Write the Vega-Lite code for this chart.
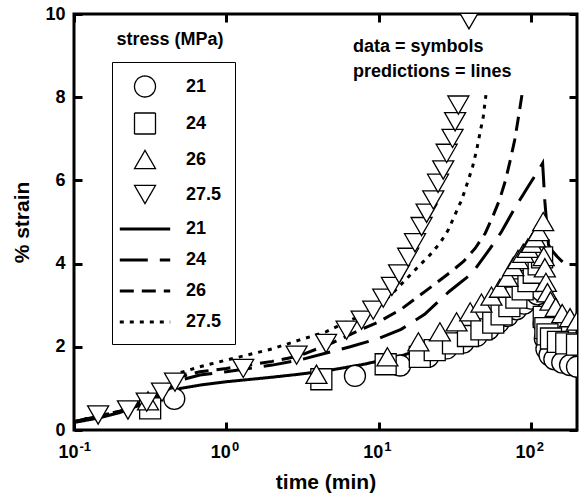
{
  "$schema": "https://vega.github.io/schema/vega-lite/v6.json",
  "width": 503,
  "height": 416,
  "autosize": {"type": "none"},
  "padding": {"left": 74, "top": 14, "right": 5, "bottom": 68},
  "background": "white",
  "config": {
    "view": {"stroke": "black", "strokeWidth": 3},
    "font": "Liberation Sans",
    "axis": {"grid": false, "domain": false, "tickColor": "black", "tickWidth": 3, "tickSize": -8, "labelColor": "black", "titleColor": "black", "labelFont": "Liberation Sans", "titleFont": "Liberation Sans", "labelFontWeight": "bold", "titleFontWeight": "bold", "labelFontSize": 18, "titleFontSize": 21, "labelFlush": false, "zindex": 1}
  },
  "datasets": {
    "lines": [
      {"series": "L21", "t": 0.1, "strain": 0.18}, {"series": "L21", "t": 0.15, "strain": 0.3}, {"series": "L21", "t": 0.2, "strain": 0.42}, {"series": "L21", "t": 0.3, "strain": 0.66}, {"series": "L21", "t": 0.4, "strain": 0.88}, {"series": "L21", "t": 0.5, "strain": 1.0}, {"series": "L21", "t": 0.7, "strain": 1.09}, {"series": "L21", "t": 1, "strain": 1.16}, {"series": "L21", "t": 2, "strain": 1.27}, {"series": "L21", "t": 3, "strain": 1.34}, {"series": "L21", "t": 5, "strain": 1.45}, {"series": "L21", "t": 8, "strain": 1.58}, {"series": "L21", "t": 10, "strain": 1.66}, {"series": "L21", "t": 14, "strain": 1.78}, {"series": "L21", "t": 20, "strain": 1.97}, {"series": "L21", "t": 30, "strain": 2.25}, {"series": "L21", "t": 40, "strain": 2.48}, {"series": "L21", "t": 50, "strain": 2.68}, {"series": "L21", "t": 62, "strain": 2.88}, {"series": "L21", "t": 80, "strain": 3.18}, {"series": "L21", "t": 100, "strain": 3.42}, {"series": "L21", "t": 123, "strain": 3.65}, {"series": "L21", "t": 124, "strain": 2.6}, {"series": "L21", "t": 130, "strain": 2.3}, {"series": "L21", "t": 150, "strain": 2.05}, {"series": "L21", "t": 200, "strain": 1.8},
      {"series": "L24", "t": 0.1, "strain": 0.2}, {"series": "L24", "t": 0.2, "strain": 0.45}, {"series": "L24", "t": 0.3, "strain": 0.7}, {"series": "L24", "t": 0.4, "strain": 0.95}, {"series": "L24", "t": 0.5, "strain": 1.2}, {"series": "L24", "t": 0.67, "strain": 1.32}, {"series": "L24", "t": 1, "strain": 1.4}, {"series": "L24", "t": 2, "strain": 1.56}, {"series": "L24", "t": 3, "strain": 1.68}, {"series": "L24", "t": 6.5, "strain": 2.0}, {"series": "L24", "t": 10, "strain": 2.2}, {"series": "L24", "t": 14, "strain": 2.42}, {"series": "L24", "t": 20, "strain": 2.78}, {"series": "L24", "t": 29, "strain": 3.33}, {"series": "L24", "t": 41, "strain": 3.77}, {"series": "L24", "t": 54, "strain": 4.37}, {"series": "L24", "t": 64, "strain": 4.77}, {"series": "L24", "t": 78, "strain": 5.33}, {"series": "L24", "t": 97, "strain": 5.89}, {"series": "L24", "t": 113, "strain": 6.27}, {"series": "L24", "t": 119, "strain": 6.41}, {"series": "L24", "t": 123, "strain": 5.5}, {"series": "L24", "t": 130, "strain": 4.45}, {"series": "L24", "t": 136, "strain": 4.33}, {"series": "L24", "t": 148, "strain": 4.17}, {"series": "L24", "t": 165, "strain": 4.0}, {"series": "L24", "t": 200, "strain": 3.97},
      {"series": "L26", "t": 0.1, "strain": 0.2}, {"series": "L26", "t": 0.2, "strain": 0.45}, {"series": "L26", "t": 0.3, "strain": 0.72}, {"series": "L26", "t": 0.4, "strain": 1.0}, {"series": "L26", "t": 0.5, "strain": 1.28}, {"series": "L26", "t": 0.67, "strain": 1.4}, {"series": "L26", "t": 1, "strain": 1.48}, {"series": "L26", "t": 2, "strain": 1.65}, {"series": "L26", "t": 3, "strain": 1.78}, {"series": "L26", "t": 5, "strain": 2.1}, {"series": "L26", "t": 7.5, "strain": 2.4}, {"series": "L26", "t": 10, "strain": 2.6}, {"series": "L26", "t": 14, "strain": 2.9}, {"series": "L26", "t": 18, "strain": 3.2}, {"series": "L26", "t": 23, "strain": 3.49}, {"series": "L26", "t": 29, "strain": 3.77}, {"series": "L26", "t": 36, "strain": 4.05}, {"series": "L26", "t": 43, "strain": 4.37}, {"series": "L26", "t": 50, "strain": 4.73}, {"series": "L26", "t": 56, "strain": 5.13}, {"series": "L26", "t": 62, "strain": 5.53}, {"series": "L26", "t": 68, "strain": 6.01}, {"series": "L26", "t": 73, "strain": 6.49}, {"series": "L26", "t": 78, "strain": 6.97}, {"series": "L26", "t": 82, "strain": 7.45}, {"series": "L26", "t": 87, "strain": 8.05},
      {"series": "L27.5", "t": 0.1, "strain": 0.2}, {"series": "L27.5", "t": 0.2, "strain": 0.45}, {"series": "L27.5", "t": 0.3, "strain": 0.72}, {"series": "L27.5", "t": 0.4, "strain": 1.05}, {"series": "L27.5", "t": 0.5, "strain": 1.38}, {"series": "L27.5", "t": 0.67, "strain": 1.52}, {"series": "L27.5", "t": 1, "strain": 1.68}, {"series": "L27.5", "t": 2, "strain": 1.95}, {"series": "L27.5", "t": 3, "strain": 2.16}, {"series": "L27.5", "t": 4.5, "strain": 2.36}, {"series": "L27.5", "t": 6.2, "strain": 2.6}, {"series": "L27.5", "t": 8.4, "strain": 2.82}, {"series": "L27.5", "t": 11.8, "strain": 3.22}, {"series": "L27.5", "t": 14.9, "strain": 3.6}, {"series": "L27.5", "t": 18.2, "strain": 3.93}, {"series": "L27.5", "t": 21.7, "strain": 4.21}, {"series": "L27.5", "t": 25.2, "strain": 4.49}, {"series": "L27.5", "t": 28.6, "strain": 4.81}, {"series": "L27.5", "t": 31.6, "strain": 5.17}, {"series": "L27.5", "t": 35, "strain": 5.53}, {"series": "L27.5", "t": 38.1, "strain": 5.93}, {"series": "L27.5", "t": 41.3, "strain": 6.33}, {"series": "L27.5", "t": 43.9, "strain": 6.73}, {"series": "L27.5", "t": 46.1, "strain": 7.13}, {"series": "L27.5", "t": 48.5, "strain": 7.53}, {"series": "L27.5", "t": 50.5, "strain": 8.05}
    ],
    "points": [
      {"series": "S21", "t": 0.455, "strain": 0.75}, {"series": "S21", "t": 6.98, "strain": 1.3}, {"series": "S21", "t": 13.8, "strain": 1.55}, {"series": "S21", "t": 21.1, "strain": 1.76}, {"series": "S21", "t": 27.9, "strain": 1.96}, {"series": "S21", "t": 35.9, "strain": 2.1}, {"series": "S21", "t": 43.9, "strain": 2.26}, {"series": "S21", "t": 52.6, "strain": 2.42}, {"series": "S21", "t": 61, "strain": 2.58}, {"series": "S21", "t": 70, "strain": 2.74}, {"series": "S21", "t": 80, "strain": 2.9}, {"series": "S21", "t": 90, "strain": 3.04}, {"series": "S21", "t": 100, "strain": 3.16}, {"series": "S21", "t": 110, "strain": 3.26}, {"series": "S21", "t": 118, "strain": 3.34}, {"series": "S21", "t": 121, "strain": 2.56}, {"series": "S21", "t": 123, "strain": 2.2}, {"series": "S21", "t": 126, "strain": 1.95}, {"series": "S21", "t": 132, "strain": 1.8}, {"series": "S21", "t": 142, "strain": 1.7}, {"series": "S21", "t": 160, "strain": 1.62}, {"series": "S21", "t": 180, "strain": 1.56}, {"series": "S21", "t": 200, "strain": 1.52},
      {"series": "S24", "t": 0.316, "strain": 0.52}, {"series": "S24", "t": 4.2, "strain": 1.22}, {"series": "S24", "t": 11.1, "strain": 1.58}, {"series": "S24", "t": 18.6, "strain": 1.76}, {"series": "S24", "t": 23.3, "strain": 1.92}, {"series": "S24", "t": 30.7, "strain": 2.08}, {"series": "S24", "t": 38.5, "strain": 2.26}, {"series": "S24", "t": 47.2, "strain": 2.42}, {"series": "S24", "t": 56.4, "strain": 2.58}, {"series": "S24", "t": 64, "strain": 2.78}, {"series": "S24", "t": 72, "strain": 2.98}, {"series": "S24", "t": 80, "strain": 3.18}, {"series": "S24", "t": 88, "strain": 3.38}, {"series": "S24", "t": 96, "strain": 3.58}, {"series": "S24", "t": 104, "strain": 3.78}, {"series": "S24", "t": 112, "strain": 3.98}, {"series": "S24", "t": 118, "strain": 4.15}, {"series": "S24", "t": 121, "strain": 2.72}, {"series": "S24", "t": 124, "strain": 2.45}, {"series": "S24", "t": 128, "strain": 2.3}, {"series": "S24", "t": 135, "strain": 2.2}, {"series": "S24", "t": 150, "strain": 2.12}, {"series": "S24", "t": 170, "strain": 2.08}, {"series": "S24", "t": 200, "strain": 2.05},
      {"series": "S26", "t": 0.306, "strain": 0.7}, {"series": "S26", "t": 3.9, "strain": 1.34}, {"series": "S26", "t": 11.4, "strain": 1.76}, {"series": "S26", "t": 18.2, "strain": 2.12}, {"series": "S26", "t": 25.2, "strain": 2.36}, {"series": "S26", "t": 32.4, "strain": 2.6}, {"series": "S26", "t": 39.8, "strain": 2.84}, {"series": "S26", "t": 47.2, "strain": 3.05}, {"series": "S26", "t": 54.9, "strain": 3.22}, {"series": "S26", "t": 62.4, "strain": 3.41}, {"series": "S26", "t": 70, "strain": 3.67}, {"series": "S26", "t": 76.4, "strain": 3.93}, {"series": "S26", "t": 82, "strain": 4.1}, {"series": "S26", "t": 88.8, "strain": 4.25}, {"series": "S26", "t": 95, "strain": 4.37}, {"series": "S26", "t": 101, "strain": 4.49}, {"series": "S26", "t": 106, "strain": 4.62}, {"series": "S26", "t": 112, "strain": 4.77}, {"series": "S26", "t": 120, "strain": 5.01}, {"series": "S26", "t": 121, "strain": 4.17}, {"series": "S26", "t": 123, "strain": 3.9}, {"series": "S26", "t": 125, "strain": 3.55}, {"series": "S26", "t": 128, "strain": 3.3}, {"series": "S26", "t": 134, "strain": 3.1}, {"series": "S26", "t": 145, "strain": 2.95}, {"series": "S26", "t": 160, "strain": 2.8}, {"series": "S26", "t": 180, "strain": 2.7}, {"series": "S26", "t": 200, "strain": 2.62},
      {"series": "S27.5", "t": 0.144, "strain": 0.36}, {"series": "S27.5", "t": 0.226, "strain": 0.48}, {"series": "S27.5", "t": 0.3, "strain": 0.67}, {"series": "S27.5", "t": 0.378, "strain": 0.91}, {"series": "S27.5", "t": 0.46, "strain": 1.15}, {"series": "S27.5", "t": 1.29, "strain": 1.48}, {"series": "S27.5", "t": 2.89, "strain": 1.8}, {"series": "S27.5", "t": 4.51, "strain": 2.08}, {"series": "S27.5", "t": 6.15, "strain": 2.4}, {"series": "S27.5", "t": 7.72, "strain": 2.64}, {"series": "S27.5", "t": 9.2, "strain": 2.88}, {"series": "S27.5", "t": 10.7, "strain": 3.17}, {"series": "S27.5", "t": 12.2, "strain": 3.45}, {"series": "S27.5", "t": 13.6, "strain": 3.75}, {"series": "S27.5", "t": 15.6, "strain": 4.15}, {"series": "S27.5", "t": 17.3, "strain": 4.5}, {"series": "S27.5", "t": 19.1, "strain": 4.89}, {"series": "S27.5", "t": 20.6, "strain": 5.21}, {"series": "S27.5", "t": 22.8, "strain": 5.53}, {"series": "S27.5", "t": 24.5, "strain": 5.93}, {"series": "S27.5", "t": 26.5, "strain": 6.25}, {"series": "S27.5", "t": 27.9, "strain": 6.65}, {"series": "S27.5", "t": 30.5, "strain": 7.01}, {"series": "S27.5", "t": 31.7, "strain": 7.41}, {"series": "S27.5", "t": 33.3, "strain": 7.81}, {"series": "S27.5", "t": 39.1, "strain": 9.86}
    ],
    "notes": [
      {"t": 0.19, "strain": 9.38, "label": "stress (MPa)"},
      {"t": 6.77, "strain": 9.21, "label": "data = symbols"},
      {"t": 6.77, "strain": 8.61, "label": "predictions = lines"}
    ]
  },
  "layer": [
    {
      "data": {"name": "lines"},
      "mark": {"type": "line", "clip": true, "color": "black"},
      "encoding": {
        "x": {"field": "t", "type": "quantitative", "scale": {"type": "log", "domain": [0.1, 200], "nice": false},
              "axis": {"orient": "bottom", "values": [0.1, 1, 10, 100], "labelExpr": "'10'", "labelAlign": "right", "labelOffset": 4, "labelPadding": 21, "title": "time (min)", "titlePadding": 10}},
        "y": {"field": "strain", "type": "quantitative", "scale": {"domain": [0, 10], "nice": false, "zero": false},
              "axis": {"orient": "left", "values": [0, 2, 4, 6, 8, 10], "labelPadding": 17, "title": "% strain", "titlePadding": 12}},
        "detail": {"field": "series"},
        "strokeDash": {"field": "series", "type": "nominal",
          "scale": {"domain": ["S21", "S24", "S26", "S27.5", "L21", "L24", "L26", "L27.5"], "range": [[1, 0], [1, 0], [1, 0], [1, 0], [1, 0], [28, 12], [14, 8], [4, 6]]},
          "legend": {"title": null}},
        "strokeWidth": {"field": "series", "type": "nominal",
          "scale": {"type": "ordinal", "domain": ["S21", "S24", "S26", "S27.5", "L21", "L24", "L26", "L27.5"], "range": [1.3, 1.3, 1.3, 1.3, 3, 3, 3, 3]},
          "legend": {"title": null}}
      }
    },
    {
      "data": {"name": "points"},
      "mark": {"type": "point", "filled": true, "fill": "white", "stroke": "black", "strokeWidth": 1.3, "size": 441, "opacity": 1, "clip": true},
      "encoding": {
        "x": {"field": "t", "type": "quantitative", "axis": {"orient": "top", "values": [0.1, 1, 10, 100], "labels": false, "title": null}},
        "y": {"field": "strain", "type": "quantitative", "axis": {"orient": "right", "values": [0, 2, 4, 6, 8, 10], "labels": false, "title": null}},
        "shape": {"field": "series", "type": "nominal",
          "scale": {"domain": ["S21", "S24", "S26", "S27.5", "L21", "L24", "L26", "L27.5"], "range": ["circle", "square", "triangle-up", "triangle-down", "M-2.4,0H2.4", "M-2.4,0H2.4", "M-2.4,0H2.4", "M-2.4,0H2.4"]},
          "legend": {"title": null, "orient": "none", "legendX": 38, "legendY": 48, "strokeColor": "black", "padding": 13, "rowPadding": 10, "symbolSize": 441, "symbolOffset": 8, "labelOffset": 29, "symbolFillColor": "white", "symbolStrokeColor": "black", "labelFont": "Liberation Sans", "labelFontWeight": "bold", "labelFontSize": 18, "labelColor": "black", "labelExpr": "slice(datum.label, 1) + '\u00a0'"}}
      }
    },
    {
      "data": {"name": "notes"},
      "mark": {"type": "text", "align": "left", "baseline": "middle", "font": "Liberation Sans", "fontWeight": "bold", "fontSize": 18, "color": "black"},
      "encoding": {
        "x": {"field": "t", "type": "quantitative", "axis": {"orient": "bottom", "values": [0.1, 1, 10, 100], "labelExpr": "datum.value < 0.5 ? '-1' : datum.value < 5 ? '0' : datum.value < 50 ? '1' : '2'", "labelFontSize": 13, "labelOffset": 5, "labelPadding": 10, "ticks": false, "tickSize": 0, "title": null, "labelAlign": "left"}},
        "y": {"field": "strain", "type": "quantitative", "axis": null},
        "text": {"field": "label"}
      }
    }
  ],
  "resolve": {"axis": {"x": "independent", "y": "independent"}}
}
